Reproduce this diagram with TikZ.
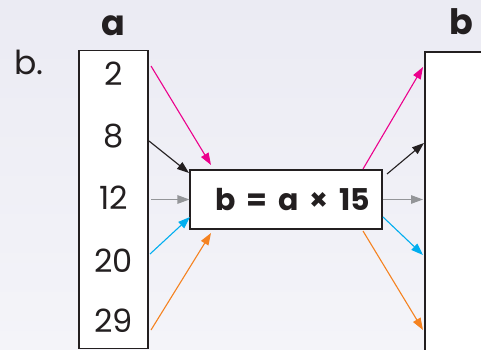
\documentclass[tikz,border=0pt]{standalone}
\usepackage{fontspec}
\setmainfont{Poppins}
\usetikzlibrary{arrows.meta}
\definecolor{ink}{RGB}{35,31,32}
\definecolor{pinkline}{RGB}{236,0,140}
\definecolor{grayline}{RGB}{147,149,152}
\definecolor{cyanline}{RGB}{0,174,239}
\definecolor{orangeline}{RGB}{245,130,32}
\definecolor{bgtop}{RGB}{235,235,243}
\definecolor{bgbot}{RGB}{244,244,249}
\begin{document}
\begin{tikzpicture}[x=1pt, y=-1pt,
    box/.style={rectangle, draw=ink, line width=1.1pt, fill=white, inner sep=0pt},
    num/.style={anchor=base, text=ink, font=\fontsize{32}{32}\selectfont},
    hdr/.style={anchor=base, text=ink, font=\fontsize{35}{35}\selectfont\bfseries},
    arr/.style={line width=1.1pt, -{Triangle[length=12pt, width=8.5pt]}}
  ]
    \clip (0,0) rectangle (481,350);
    \shade[top color=bgtop, bottom color=bgbot] (0,0) rectangle (481,350);
    \node[anchor=base west, inner sep=0pt, text=ink, font=\fontsize{33}{33}\selectfont] (part) at (14,75) {b.};
    \node[hdr] (ha) at (113.5,36) {a};
    \node[hdr] (hb) at (461,35) {b};
    \node[box, minimum width=69pt, minimum height=298pt] (abox) at (113.5,199.5) {};
    \node[box, minimum width=70pt, minimum height=320pt] (bbox) at (460,212) {};
    \node[box, minimum width=192pt, minimum height=59pt, text=ink, font=\fontsize{30}{30}\selectfont\bfseries] (rule) at (286,199.5) {\hspace*{14pt}\spaceskip=0.36em b = a × 15};
    \node[num] (n2) at (113.5,86) {2};
    \node[num] (n8) at (113.5,147) {8};
    \node[num] (n12) at (113.5,209) {12};
    \node[num] (n20) at (113.5,272) {20};
    \node[num] (n29) at (113.5,332) {29};
    \coordinate (s2) at (151,66);
    \coordinate (s8) at (149,141);
    \coordinate (s12) at (151,199.5);
    \coordinate (s20) at (150,254);
    \coordinate (s29) at (151,330);
    \coordinate (t2) at (423,67);
    \coordinate (t8) at (424,143);
    \coordinate (t12) at (423,199.5);
    \coordinate (t20) at (423,255);
    \coordinate (t29) at (423,330);
    \draw[arr, pinkline] (s2) -- (211,165);
    \draw[arr, ink] (s8) -- (189,173);
    \draw[arr, grayline] (s12) -- (rule.west);
    \draw[arr, cyanline] (s20) -- (190,217);
    \draw[arr, orangeline] (s29) -- (211,233);
    \draw[arr, pinkline] (363,169) -- (t2);
    \draw[arr, ink] (387,174) -- (t8);
    \draw[arr, grayline] (rule.east) -- (t12);
    \draw[arr, cyanline] (383,217) -- (t20);
    \draw[arr, orangeline] (363,231) -- (t29);
  \end{tikzpicture}
\end{document}
